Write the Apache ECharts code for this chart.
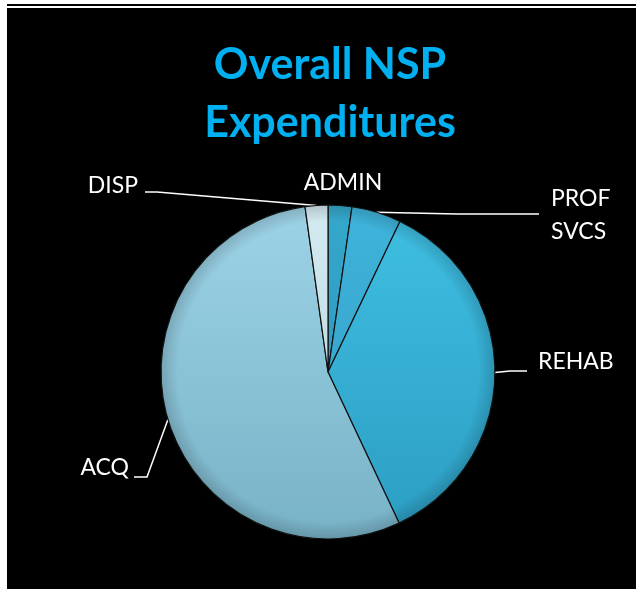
<!DOCTYPE html>
<html>
<head>
<meta charset="utf-8">
<script src="https://cdn.jsdelivr.net/npm/echarts@6/dist/echarts.min.js"></script>
<style>
  html, body { margin: 0; padding: 0; background: #fff; }
  #rule { position: absolute; left: 7px; right: 0; top: 4px; height: 2px; background: #000; }
  #chart { position: absolute; left: 7px; top: 8px; width: 629px; height: 581px; background: #000; }
</style>
</head>
<body>
<div id="rule"></div>
<div id="chart"></div>
<script>
// slices, clockwise from 12 o'clock
const categories = ['ADMIN', 'PROF\nSVCS', 'REHAB', 'ACQ', 'DISP'];
const shares = [2.3, 4.8, 35.9, 54.8, 2.2];

// shading: lighter at top, darker at bottom
const topColors = ['#35a8cc', '#3fb4dc', '#3fbfe3', '#9dd3e6', '#d4eaf1'];
const bottomColors = ['#2a8fb3', '#3299c0', '#2c9dc2', '#78b2c6', '#b3d0da'];

const pieCenter = [321, 364];
const pieRadius = 167;

// where each label sits (chart pixels) and how its leader bends
const labelSpots = [
  { x: 336, y: 175, align: 'center' },
  { x: 544, y: 207, align: 'left', bend: [450, 206], end: [532, 206] },
  { x: 531, y: 354, align: 'left', bend: [503, 363], end: [520, 363] },
  { x: 122, y: 460, align: 'right', bend: [140, 469], end: [127, 469] },
  { x: 131, y: 178, align: 'right', bend: [150, 184], end: [138, 184] }
];

const chart = echarts.init(document.getElementById('chart'));

const pieTop = pieCenter[1] - pieRadius;
const pieBottom = pieCenter[1] + pieRadius;

const pieData = categories.map((name, i) => ({
  name: name,
  value: shares[i],
  itemStyle: {
    color: new echarts.graphic.LinearGradient(0, pieTop, 0, pieBottom, [
      { offset: 0, color: topColors[i] },
      { offset: 1, color: bottomColors[i] }
    ], true)
  },
  labelLine: { show: name !== 'ADMIN' }
}));

chart.setOption({
  backgroundColor: '#000',
  animation: false,
  title: {
    text: 'Overall NSP\nExpenditures',
    left: 318,
    top: 23,
    textAlign: 'center',
    textStyle: {
      color: '#00b0f0',
      fontFamily: 'Lato',
      fontWeight: 'bold',
      fontSize: 43,
      lineHeight: 58
    }
  },
  series: [
    {
      type: 'pie',
      center: pieCenter,
      radius: pieRadius,
      startAngle: 90,
      clockwise: true,
      data: pieData,
      itemStyle: { borderColor: '#111', borderWidth: 1.2 },
      label: {
        color: '#fff',
        fontFamily: 'Lato',
        fontSize: 23,
        lineHeight: 33
      },
      labelLine: {
        lineStyle: { color: '#fff', width: 1.5 }
      },
      labelLayout: function (params) {
        const spot = labelSpots[params.dataIndex];
        const out = { x: spot.x, y: spot.y, align: spot.align, verticalAlign: 'middle' };
        if (spot.end && params.labelLinePoints) {
          out.labelLinePoints = [params.labelLinePoints[0], spot.bend, spot.end];
        }
        return out;
      }
    },
    {
      // soft darker rim over the whole pie
      type: 'pie',
      silent: true,
      z: 3,
      center: pieCenter,
      radius: pieRadius,
      label: { show: false },
      labelLine: { show: false },
      data: [{
        value: 1,
        itemStyle: {
          color: new echarts.graphic.RadialGradient(pieCenter[0], pieCenter[1], pieRadius, [
            { offset: 0, color: 'rgba(0,0,0,0)' },
            { offset: 0.9, color: 'rgba(0,0,0,0)' },
            { offset: 1, color: 'rgba(0,0,0,0.16)' }
          ], true)
        }
      }]
    }
  ]
});
</script>
</body>
</html>
